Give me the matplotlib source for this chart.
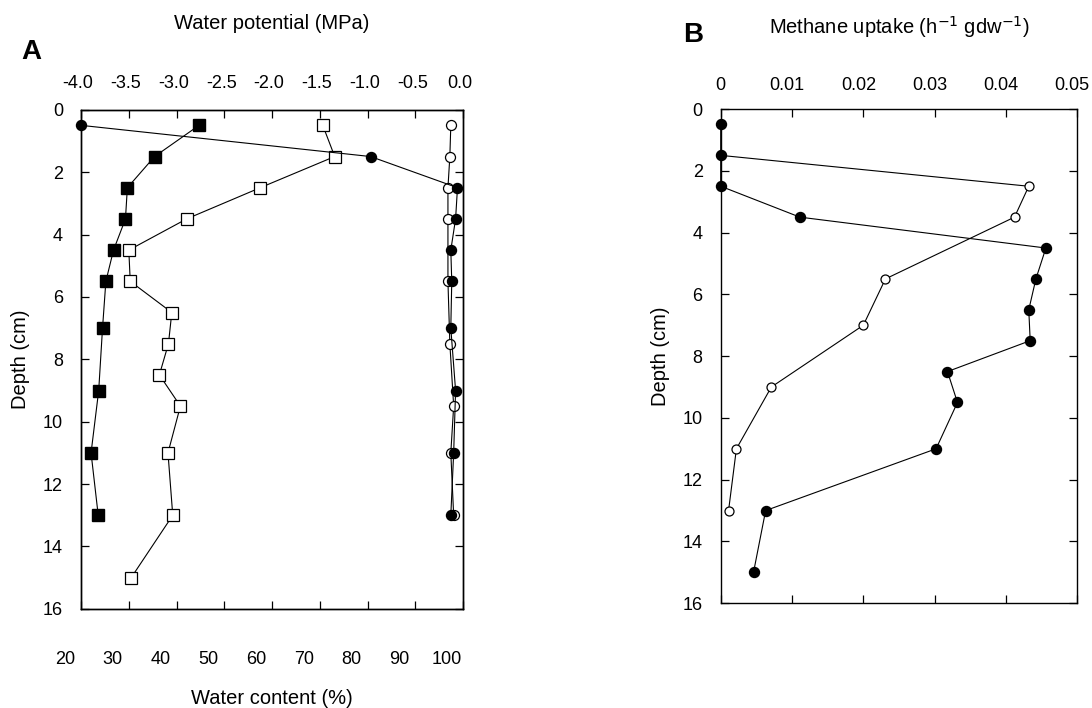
import matplotlib
matplotlib.use('Agg')
import matplotlib.pyplot as plt
import matplotlib.transforms as mtransforms

plt.rcParams['font.family'] = ['Liberation Sans', 'DejaVu Sans']

# Panel A: water content (bottom axis) and water potential (top axis)
depth_sq_fill = [0.5, 1.5, 2.5, 3.5, 4.5, 5.5, 7.0, 9.0, 11.0, 13.0]
wc_sq_fill = [44.7, 35.4, 29.7, 29.3, 26.8, 25.2, 24.5, 23.7, 22.1, 23.6]

depth_sq_open = [0.5, 1.5, 2.5, 3.5, 4.5, 5.5, 6.5, 7.5, 8.5, 9.5, 11.0, 13.0, 15.0]
wc_sq_open = [70.6, 73.1, 57.5, 42.1, 30.0, 30.3, 39.0, 38.3, 36.4, 40.8, 38.2, 39.2, 30.5]

depth_c_fill = [0.5, 1.5, 2.5, 3.5, 4.5, 5.5, 7.0, 9.0, 11.0, 13.0]
wp_c_fill = [-4.0, -0.97, -0.06, -0.08, -0.13, -0.12, -0.13, -0.08, -0.10, -0.13]

depth_c_open = [0.5, 1.5, 2.5, 3.5, 5.5, 7.5, 9.5, 11.0, 13.0]
wp_c_open = [-0.13, -0.14, -0.16, -0.16, -0.16, -0.14, -0.10, -0.13, -0.10]

# Panel B: methane uptake
depth_b_fill = [0.5, 1.5, 2.5, 3.5, 4.5, 5.5, 6.5, 7.5, 8.5, 9.5, 11.0, 13.0, 15.0]
ch4_fill = [0, 0, 0, 0.0111, 0.0456, 0.0442, 0.0432, 0.0434, 0.0318, 0.0332, 0.0302, 0.0063, 0.0046]

depth_b_open = [1.5, 2.5, 3.5, 5.5, 7.0, 9.0, 11.0, 13.0]
ch4_open = [0, 0.0432, 0.0412, 0.0231, 0.0200, 0.0071, 0.0022, 0.0011]

wc_ticks = [20, 30, 40, 50, 60, 70, 80, 90, 100]
wp_ticks = [-4.0, -3.5, -3.0, -2.5, -2.0, -1.5, -1.0, -0.5, 0.0]
ch4_ticks = [0, 0.01, 0.02, 0.03, 0.04, 0.05]
ch4_labels = ['0', '0.01', '0.02', '0.03', '0.04', '0.05']
depth_ticks = [0, 2, 4, 6, 8, 10, 12, 14, 16]

fig = plt.figure(figsize=(10.92, 7.08), dpi=100)

lw = 0.8
ms_c = 7.2
ms_s = 8.5
tick_fs = 13
lab_fs = 14.5

def style_axis(ax):
    for s in ax.spines.values():
        s.set_linewidth(1.0)
    ax.tick_params(direction='in', length=5.5, width=0.9, labelsize=tick_fs)

def shift_labels(labels, dx_px):
    off = mtransforms.ScaledTranslation(dx_px / 100.0, 0, fig.dpi_scale_trans)
    for lab in labels:
        lab.set_transform(lab.get_transform() + off)

# ---------- Panel A ----------
axA = fig.add_axes([0.0742, 0.140, 0.350, 0.705])
axA.set_xlim(20, 100)
axA.set_ylim(16, 0)
axA.plot(wc_sq_open, depth_sq_open, color='black', lw=lw, marker='s', ms=ms_s,
         mfc='white', mec='black', mew=0.9, clip_on=False, zorder=3)
axA.plot(wc_sq_fill, depth_sq_fill, color='black', lw=lw, marker='s', ms=ms_s,
         mfc='black', mec='black', clip_on=False, zorder=4)
axA.set_xticks(wc_ticks)
axA.set_yticks(depth_ticks)
style_axis(axA)
axA.tick_params(axis='x', pad=30)
axA.tick_params(axis='y', pad=13, right=True)
axA.set_xlabel('Water content (%)', fontsize=lab_fs, labelpad=15.5)
axA.set_ylabel('Depth (cm)', fontsize=lab_fs, labelpad=9)
# bottom labels sit a little to the left of their ticks in the original
shift_labels(axA.get_xticklabels(), -16)

axA2 = axA.twiny()
axA2.set_xlim(-4.0, 0.0)
axA2.plot(wp_c_open, depth_c_open, color='black', lw=lw, marker='o', ms=ms_c,
          mfc='white', mec='black', mew=0.9, clip_on=False, zorder=3)
axA2.plot(wp_c_fill, depth_c_fill, color='black', lw=lw, marker='o', ms=ms_c,
          mfc='black', mec='black', clip_on=False, zorder=4)
axA2.set_xticks(wp_ticks)
axA2.set_xticklabels(['%.1f' % t for t in wp_ticks])
style_axis(axA2)
axA2.tick_params(axis='x', pad=13)
axA2.set_xlabel('Water potential (MPa)', fontsize=lab_fs, labelpad=33)
axA2.set_ylim(16, 0)
shift_labels(axA2.get_xticklabels(), -3)

fig.text(0.029, 0.926, 'A', fontsize=20, fontweight='bold', ha='center', va='center')

# ---------- Panel B ----------
axB = fig.add_axes([0.660, 0.148, 0.3265, 0.698])
axB.set_xlim(0, 0.05)
axB.set_ylim(16, 0)
axB.plot(ch4_open, depth_b_open, color='black', lw=lw, marker='o', ms=ms_c * 0.9,
         mfc='white', mec='black', mew=0.9, clip_on=False, zorder=3)
axB.plot(ch4_fill, depth_b_fill, color='black', lw=lw, marker='o', ms=ms_c,
         mfc='black', mec='black', clip_on=False, zorder=4)
axB.set_xticks(ch4_ticks)
axB.set_xticklabels(ch4_labels)
axB.set_yticks(depth_ticks)
style_axis(axB)
axB.tick_params(axis='x', top=True, labeltop=True, labelbottom=False, pad=10.5)
axB.tick_params(axis='y', right=True, pad=13)
axB.xaxis.set_label_position('top')
axB.set_xlabel('Methane uptake (h$^{-1}$ gdw$^{-1}$)', fontsize=lab_fs, labelpad=31.5)
axB.set_ylabel('Depth (cm)', fontsize=lab_fs, labelpad=9)
shift_labels(axB.get_xticklabels()[1:], -5)

fig.text(0.635, 0.950, 'B', fontsize=20, fontweight='bold', ha='center', va='center')

fig.savefig('out.png', dpi=100)
